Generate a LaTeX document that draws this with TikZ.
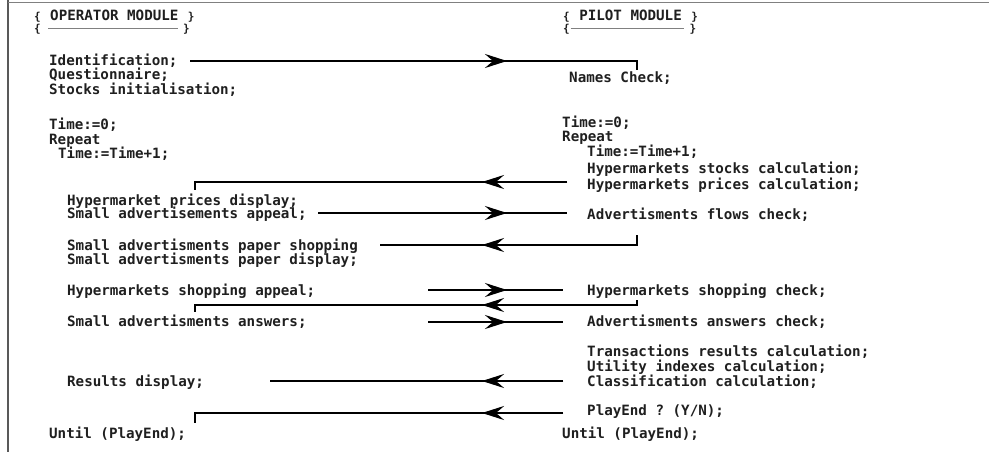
\documentclass[tikz,border=0pt]{standalone}
\usepackage{fontspec}
\setmonofont{DejaVu Sans Mono}
\usetikzlibrary{arrows.meta}
\newcommand{\lbr}{\makebox[8.5pt][c]{\fontsize{11}{12}\selectfont\{}}
\newcommand{\rbr}{\makebox[8.5pt][c]{\fontsize{11}{12}\selectfont\}}}

\begin{document}
\begin{tikzpicture}[x=1pt,y=-1pt,font=\ttfamily\bfseries\fontsize{14.2}{16}\selectfont,
txt/.style={anchor=base west,inner sep=0pt,text=black!88},
wire/.style={line width=2.7pt},
head/.style={line width=2.7pt,-{Stealth[length=22pt,width=14pt,inset=8pt]}}]
\useasboundingbox (0,0) rectangle (989,452);
% frame
\draw[black!65,line width=1.6pt] (8,0) -- (8,452);
\draw[black!50,line width=1.6pt] (8,2.5) -- (989,2.5);
% operator module
\node[txt] (opname) at (33,21) {\lbr\ OPERATOR MODULE \rbr};
\node[txt] (oprule) at (33,33) {\lbr\hspace{6.5pt}\textcolor{gray}{\rule[4.5pt]{130pt}{0.8pt}}\hspace{4pt}\rbr};
\node[txt] (ident) at (49,66) {Identification;};
\node[txt] (quest) at (49,80) {Questionnaire;};
\node[txt] (stocks) at (49,95) {Stocks initialisation;};
\node[txt] (optime) at (49,129) {Time:=0;};
\node[txt] (oprep) at (49,144) {Repeat};
\node[txt] (opinc) at (58,158) {Time:=Time+1;};
\node[txt] (pdisp) at (67,205) {Hypermarket prices display;};
\node[txt] (appeal) at (67,218) {Small advertisements appeal;};
\node[txt] (pshop) at (67,250) {Small advertisments paper shopping};
\node[txt] (ppdisp) at (67,264) {Small advertisments paper display;};
\node[txt] (hshop) at (67,295) {Hypermarkets shopping appeal;};
\node[txt] (answ) at (67,326) {Small advertisments answers;};
\node[txt] (rdisp) at (67,386) {Results display;};
\node[txt] (opuntil) at (49,438) {Until (PlayEnd);};
% pilot module
\node[txt] (plname) at (562,21) {\lbr\ PILOT MODULE \rbr};
\node[txt] (plrule) at (562,33) {\lbr\textcolor{gray}{\rule[4.5pt]{113pt}{0.8pt}}\hspace{5pt}\rbr};
\node[txt] (names) at (569,83) {Names Check;};
\node[txt] (pltime) at (562,128) {Time:=0;};
\node[txt] (plrep) at (562,142) {Repeat};
\node[txt] (plinc) at (587,157) {Time:=Time+1;};
\node[txt] (scalc) at (587,173) {Hypermarkets stocks calculation;};
\node[txt] (pcalc) at (587,189) {Hypermarkets prices calculation;};
\node[txt] (flows) at (587,219) {Advertisments flows check;};
\node[txt] (hcheck) at (587,295) {Hypermarkets shopping check;};
\node[txt] (acheck) at (587,326) {Advertisments answers check;};
\node[txt] (tcalc) at (587,356) {Transactions results calculation;};
\node[txt] (ucalc) at (587,371) {Utility indexes calculation;};
\node[txt] (ccalc) at (587,386) {Classification calculation;};
\node[txt] (pend) at (587,415) {PlayEnd ? (Y/N);};
\node[txt] (pluntil) at (562,438) {Until (PlayEnd);};
% connector ends
\coordinate (tipR) at (507,0);\coordinate (tipL) at (482,0);
\coordinate (id0) at (190,61);\coordinate (id1) at (637,70);
\coordinate (pr0) at (567,182);\coordinate (pr1) at (195,190);
\coordinate (ap0) at (318,213);\coordinate (ap1) at (567,213);
\coordinate (ps0) at (637,235);\coordinate (ps1) at (380,245);
\coordinate (sa0) at (428,290);\coordinate (sa1) at (563,290);
\coordinate (sb0) at (637,300);\coordinate (sb1) at (195,305);\coordinate (sb2) at (195,312);
\coordinate (an0) at (428,322);\coordinate (an1) at (563,322);
\coordinate (rd0) at (563,381);\coordinate (rd1) at (270,381);
\coordinate (pe0) at (563,413);\coordinate (pe1) at (195,423);
% connectors
\draw[wire] (id0) -| (id1);\draw[head] (id0) -- (id0 -| tipR);
\draw[wire] (pr0) -| (pr1);\draw[head] (pr0) -- (pr0 -| tipL);
\draw[wire] (ap0) -- (ap1);\draw[head] (ap0) -- (ap0 -| tipR);
\draw[wire] (ps0) |- (ps1);\draw[head] (ps0 |- ps1) -- (ps1 -| tipL);
\draw[wire] (sa0) -- (sa1);\draw[head] (sa0) -- (sa0 -| tipR);
\draw[wire] (sb0) |- (sb1) -- (sb2);\draw[head] (sb0 |- sb1) -- (sb1 -| tipL);
\draw[wire] (an0) -- (an1);\draw[head] (an0) -- (an0 -| tipR);
\draw[wire] (rd0) -- (rd1);\draw[head] (rd0) -- (rd0 -| tipL);
\draw[wire] (pe0) -| (pe1);\draw[head] (pe0) -- (pe0 -| tipL);
\end{tikzpicture}
\end{document}
